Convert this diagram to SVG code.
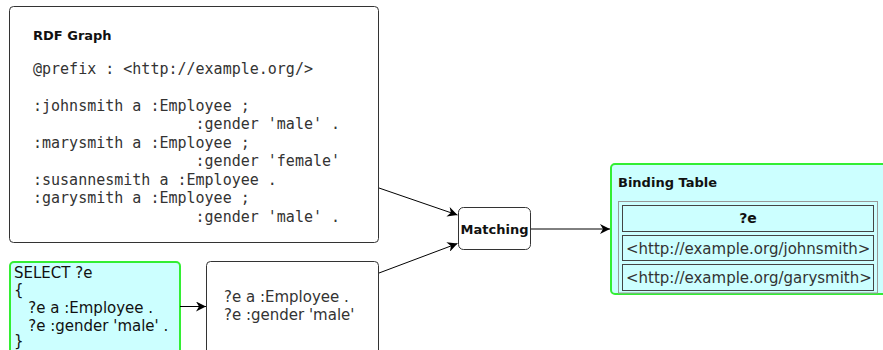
<svg xmlns="http://www.w3.org/2000/svg" width="883" height="350" viewBox="0 0 883 350">
<defs>
<style>
.box{fill:#ffffff;stroke:#333333;stroke-width:1}
.green{fill:#ccffff;stroke:#33ee33;stroke-width:2}
.mono{font-family:"DejaVu Sans Mono",monospace;font-size:15px;fill:#333333}
.sans{font-family:"DejaVu Sans",sans-serif;font-size:15px;fill:#111111}
.bold{font-family:"DejaVu Sans",sans-serif;font-size:13px;font-weight:bold;fill:#111111}
.conn{stroke:#000000;stroke-width:1;fill:none}
.cell{fill:#ccffff;stroke:#444444;stroke-width:1}
</style>
<marker id="arr" viewBox="0 0 10 10" refX="10" refY="5" markerWidth="10" markerHeight="10" markerUnits="userSpaceOnUse" orient="auto">
<path d="M0,0 L10,5 L0,10 L3,5 Z" fill="#000000"/>
</marker>
</defs>
<g id="rdf-graph">
<rect class="box" x="9.5" y="6.5" width="369" height="236" rx="4"/>
<text class="bold" x="33" y="40">RDF Graph</text>
<text class="mono" x="33" y="74" xml:space="preserve">@prefix : &lt;http://example.org/&gt;</text>
<text class="mono" x="33" y="111" xml:space="preserve">:johnsmith a :Employee ;</text>
<text class="mono" x="33" y="129" xml:space="preserve">                  :gender 'male' .</text>
<text class="mono" x="33" y="148" xml:space="preserve">:marysmith a :Employee ;</text>
<text class="mono" x="33" y="166" xml:space="preserve">                  :gender 'female'</text>
<text class="mono" x="33" y="185" xml:space="preserve">:susannesmith a :Employee .</text>
<text class="mono" x="33" y="203" xml:space="preserve">:garysmith a :Employee ;</text>
<text class="mono" x="33" y="222" xml:space="preserve">                  :gender 'male' .</text>
</g>
<g id="sparql-query">
<rect class="green" x="10" y="262" width="170" height="100" rx="4"/>
<text class="sans" x="14" y="278" xml:space="preserve">SELECT ?e</text>
<text class="sans" x="14" y="295" xml:space="preserve">{</text>
<text class="sans" x="14" y="313" xml:space="preserve">   ?e a :Employee .</text>
<text class="sans" x="14" y="331" xml:space="preserve">   ?e :gender 'male' .</text>
<text class="sans" x="14" y="346" xml:space="preserve">}</text>
</g>
<g id="graph-pattern">
<rect class="box" x="206.5" y="261.5" width="172" height="100" rx="4"/>
<text class="sans" x="224" y="302" style="fill:#333333">?e a :Employee .</text>
<text class="sans" x="224" y="320" style="fill:#333333">?e :gender 'male'</text>
</g>
<g id="matching">
<rect class="box" x="458.5" y="207.5" width="72" height="42" rx="5"/>
<text class="bold" x="494.5" y="233.5" text-anchor="middle">Matching</text>
</g>
<g id="binding-table">
<rect class="green" x="611" y="164" width="280" height="130" rx="4"/>
<text class="bold" x="618" y="186.5">Binding Table</text>
<rect x="618.5" y="201.5" width="259" height="91.5" fill="none" stroke="#999999" stroke-width="1"/>
<rect class="cell" x="622.5" y="205.5" width="251" height="26"/>
<text class="bold" x="748" y="223" text-anchor="middle" style="font-size:14px">?e</text>
<rect class="cell" x="622.5" y="235.5" width="251" height="25"/>
<text class="sans" x="626" y="253.5" style="fill:#333333">&lt;http://example.org/johnsmith&gt;</text>
<rect class="cell" x="622.5" y="264.5" width="251" height="26"/>
<text class="sans" x="626" y="283" style="fill:#333333">&lt;http://example.org/garysmith&gt;</text>
</g>
<g id="connectors">
<line class="conn" x1="379" y1="188" x2="457.5" y2="215" marker-end="url(#arr)"/>
<line class="conn" x1="379" y1="273" x2="457.5" y2="243.5" marker-end="url(#arr)"/>
<line class="conn" x1="531" y1="229" x2="610" y2="229" marker-end="url(#arr)"/>
<line class="conn" x1="180" y1="306.5" x2="206" y2="306.5" marker-end="url(#arr)"/>
</g>
</svg>
